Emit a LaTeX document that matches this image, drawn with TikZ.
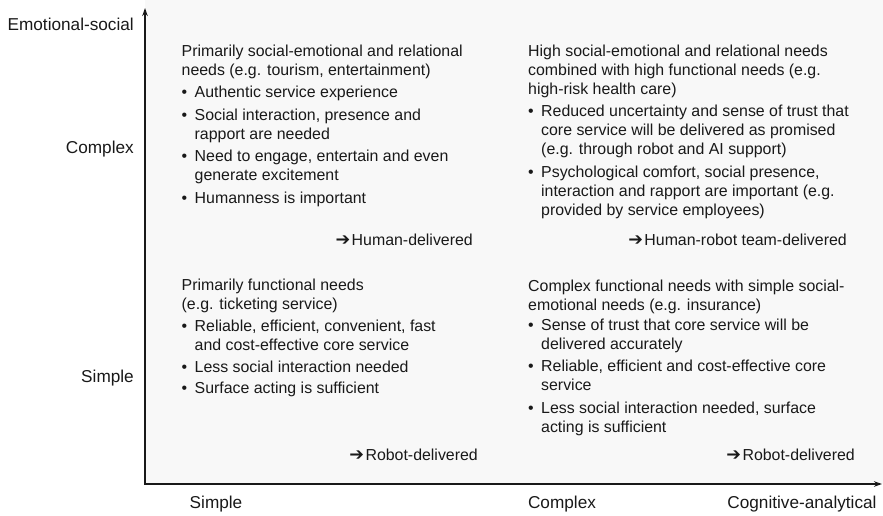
\documentclass[tikz,border=0pt]{standalone}
\usepackage{fontspec}
\setmainfont{Liberation Sans}
\newfontfamily\arrowfont{DejaVu Sans}
\usetikzlibrary{arrows.meta}
\definecolor{txt}{gray}{0.1}
\definecolor{bg}{gray}{0.972}
\newcommand{\qf}{\fontsize{15.9}{19}\selectfont}
\newcommand{\af}{\fontsize{17.2}{20}\selectfont}
\newcommand{\bul}{\makebox[13pt][l]{•}}
\newcommand{\cont}{\hspace*{13pt}}
\newcommand{\arr}{{\arrowfont\fontsize{17.5}{19}\selectfont ➔}\hspace{1.5pt}}
\begin{document}
\begin{tikzpicture}[x=1pt,y=-1pt,
  every node/.style={inner sep=0pt, text=txt, font=\qf},
  quad/.style={anchor=north west, align=left},
  axlab/.style={anchor=base east, font=\af},
  xlab/.style={anchor=base, font=\af},
  result/.style={anchor=base east},
  axisline/.style={line width=2pt, draw=txt, {Stealth[length=8pt,width=5.5pt]}-{Stealth[length=8pt,width=5.5pt]}}]
\useasboundingbox (0,0) rectangle (883,515);
\fill[bg] (145,0) rectangle (883,484);
\coordinate (Ytop) at (145,8);
\coordinate (O) at (145,484);
\coordinate (Xend) at (882,484);
\draw[axisline] (Ytop) -- (O) -- (Xend);

% axis labels
\node[axlab] (ylabtop) at (134,30.5) {Emotional-social};
\node[axlab] (ycomplex) at (134,153.5) {Complex};
\node[axlab] (ysimple) at (134,382.5) {Simple};
\node[xlab] (xsimple) at (216,508.5) {Simple};
\node[xlab] (xcomplex) at (562,508.5) {Complex};
\node[xlab] (xlabend) at (802,508.5) {Cognitive-analytical};

% quadrants
\node[quad] (tl) at (181.5,44.5) {Primarily social-emotional and relational\\
needs (e.g. tourism, entertainment)\\[3.5pt]
\bul Authentic service experience\\[3.5pt]
\bul Social interaction, presence and\\
\cont rapport are needed\\[3.5pt]
\bul Need to engage, entertain and even\\
\cont generate excitement\\[3.5pt]
\bul Humanness is important};

\node[quad] (tr) at (528,44.5) {High social-emotional and relational needs\\
combined with high functional needs (e.g.\\
high-risk health care)\\[3.5pt]
\bul Reduced uncertainty and sense of trust that\\
\cont core service will be delivered as promised\\
\cont (e.g. through robot and AI support)\\[3.5pt]
\bul Psychological comfort, social presence,\\
\cont interaction and rapport are important (e.g.\\
\cont provided by service employees)};

\node[quad] (bl) at (181.5,278.7) {Primarily functional needs\\
(e.g. ticketing service)\\[3pt]
\bul Reliable, efficient, convenient, fast\\
\cont and cost-effective core service\\[3.5pt]
\bul Less social interaction needed\\[1.5pt]
\bul Surface acting is sufficient};

\node[quad] (br) at (528,279.5) {Complex functional needs with simple social-\\
emotional needs (e.g. insurance)\\[1pt]
\bul Sense of trust that core service will be\\
\cont delivered accurately\\[3.5pt]
\bul Reliable, efficient and cost-effective core\\
\cont service\\[3.5pt]
\bul Less social interaction needed, surface\\
\cont acting is sufficient};

% results
\node[result] (rtl) at (473,245) {\arr Human-delivered};
\node[result] (rtr) at (847,245) {\arr Human-robot team-delivered};
\node[result] (rbl) at (478,460) {\arr Robot-delivered};
\node[result] (rbr) at (855,460) {\arr Robot-delivered};
\end{tikzpicture}
\end{document}
